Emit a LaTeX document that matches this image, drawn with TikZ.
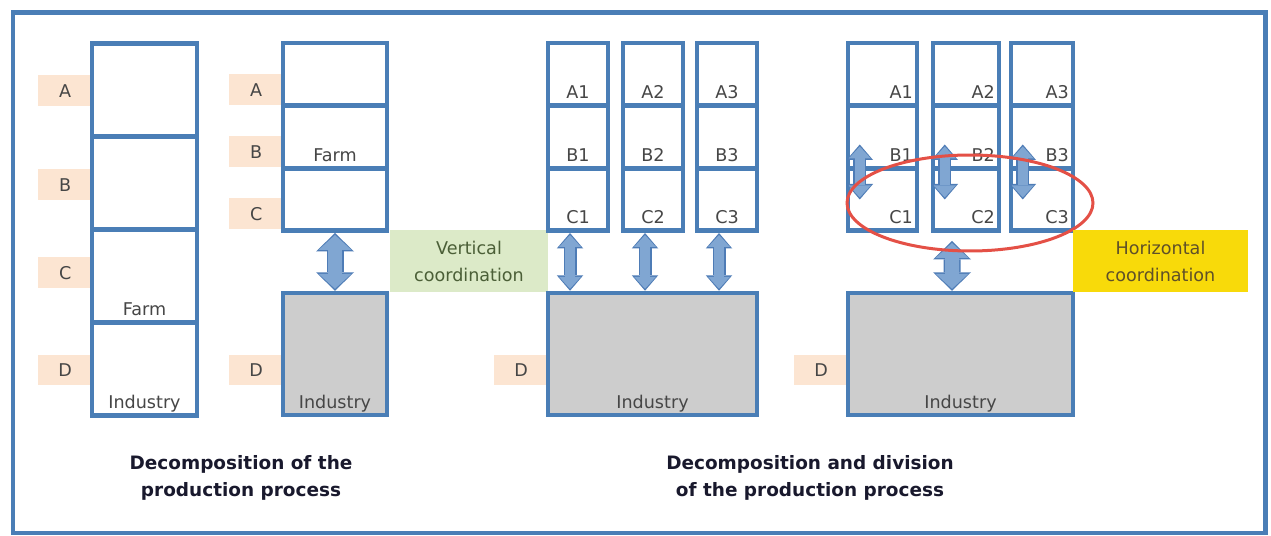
\documentclass[tikz,border=0pt]{standalone}
\usepackage{fontspec}
\setmainfont{DejaVu Sans}
\usetikzlibrary{arrows.meta}

\definecolor{edgeblue}{RGB}{74,126,182}
\definecolor{arrfill}{RGB}{128,166,210}
\definecolor{arrline}{RGB}{78,124,182}
\definecolor{tagbg}{RGB}{252,229,210}
\definecolor{vertbg}{RGB}{220,234,200}
\definecolor{horbg}{RGB}{248,218,10}
\definecolor{indgray}{RGB}{205,205,205}
\definecolor{ringred}{RGB}{228,80,70}
\definecolor{txtgray}{RGB}{70,70,70}
\definecolor{verttxt}{RGB}{75,95,55}
\definecolor{hortxt}{RGB}{95,80,40}
\definecolor{capdark}{RGB}{25,25,45}

\tikzset{
  cell/.style={draw=edgeblue, line width=0.09cm, inner sep=0pt},
  ind/.style={cell, fill=indgray, minimum height=2.44cm},
  tag/.style={fill=tagbg, text=txtgray, anchor=east, minimum width=1.1cm,
    minimum height=0.62cm, inner sep=0pt, font=\fontsize{10}{12}\selectfont},
  txt/.style={text=txtgray, inner sep=0pt, anchor=base, font=\fontsize{10}{12}\selectfont},
  coordbox/.style={minimum height=1.24cm, inner sep=0pt, align=center,
    font=\fontsize{10}{15.4}\selectfont},
  captext/.style={text=capdark, align=center, inner sep=0pt,
    font=\fontsize{10.5}{15.4}\selectfont\bfseries},
  bigarr/.style={draw=arrfill, line width=0.28cm, shorten <=0.04cm, shorten >=0.04cm,
    arrows={Triangle[width=0.66cm,length=0.30cm,line width=0pt]-Triangle[width=0.66cm,length=0.30cm,line width=0pt]},
    preaction={draw=arrline, line width=0.34cm, shorten <=0pt, shorten >=0pt,
      arrows={Triangle[width=0.76cm,length=0.37cm,line width=0pt]-Triangle[width=0.76cm,length=0.37cm,line width=0pt]}}},
  smallarr/.style={draw=arrfill, line width=0.20cm, shorten <=0.04cm, shorten >=0.04cm,
    arrows={Triangle[width=0.44cm,length=0.24cm,line width=0pt]-Triangle[width=0.44cm,length=0.24cm,line width=0pt]},
    preaction={draw=arrline, line width=0.26cm, shorten <=0pt, shorten >=0pt,
      arrows={Triangle[width=0.53cm,length=0.31cm,line width=0pt]-Triangle[width=0.53cm,length=0.31cm,line width=0pt]}}},
  ring/.style={draw=ringred, line width=0.06cm}
}

\begin{document}
\begin{tikzpicture}[x=0.02cm,y=-0.02cm]
  \fill[white] (0,0) rectangle (1271,536);
  \useasboundingbox (0,0) rectangle (1271,536);
  \draw[edgeblue, line width=0.1cm] (13,13) rectangle (1265,533);

  % first stack: four layers in one firm
  \node[tag] at (93,91) {A};
  \node[tag] at (93,185) {B};
  \node[tag] at (93,273) {C};
  \node[tag] at (93,370) {D};
  \node[cell, minimum width=2.1cm, minimum height=1.86cm] (s1a) at (144.5,90) {};
  \node[cell, minimum width=2.1cm, minimum height=1.86cm] (s1b) at (144.5,183) {};
  \node[cell, minimum width=2.1cm, minimum height=1.86cm] (s1c) at (144.5,276) {};
  \node[cell, minimum width=2.1cm, minimum height=1.86cm] (s1d) at (144.5,369) {};
  \node[txt] at ([yshift=0.18cm]s1c.south) {Farm};
  \node[txt] at ([yshift=0.18cm]s1d.south) {Industry};

  % second stack: farm and industry apart
  \node[tag] at (284,90) {A};
  \node[tag] at (284,152) {B};
  \node[tag] at (284,214) {C};
  \node[tag] at (284,370) {D};
  \node[cell, minimum width=2.08cm, minimum height=1.25cm] (s2a) at (335,74.5) {};
  \node[cell, minimum width=2.08cm, minimum height=1.25cm] (s2b) at (335,137) {};
  \node[cell, minimum width=2.08cm, minimum height=1.25cm] (s2c) at (335,199.5) {};
  \node[ind, minimum width=2.08cm] (i2) at (335,354) {};
  \node[txt] at ([yshift=0.18cm]s2b.south) {Farm};
  \node[txt] at ([yshift=0.18cm]i2.south) {Industry};
  \draw[bigarr] (s2c.south) -- (i2.north);

  \node[coordbox, fill=vertbg, text=verttxt, minimum width=3.16cm] (vert) at (469,261)
    {Vertical\\coordination};

  % third group: three parallel chains
  \node[tag] at (549,370) {D};
  \node[ind, minimum width=4.18cm] (i3) at (652.5,354) {};
  \node[txt] at ([yshift=0.18cm]i3.south) {Industry};
  \foreach \n/\x in {1/578,2/653,3/727}{
    \node[cell, minimum width=1.2cm, minimum height=1.25cm] (ma\n) at (\x,74.5) {};
    \node[cell, minimum width=1.2cm, minimum height=1.25cm] (mb\n) at (\x,137) {};
    \node[cell, minimum width=1.2cm, minimum height=1.25cm] (mc\n) at (\x,199.5) {};
    \node[txt] at ([yshift=0.18cm]ma\n.south) {A\n};
    \node[txt] at ([yshift=0.18cm]mb\n.south) {B\n};
    \node[txt] at ([yshift=0.18cm]mc\n.south) {C\n};
    \draw[smallarr] ([xshift=-0.16cm]mc\n.south) -- ([xshift=-0.16cm]mc\n.south |- i3.north);
  }

  % fourth group: coordination across the chains
  \node[tag] at (849,370) {D};
  \node[ind, minimum width=4.5cm] (i4) at (960.5,354) {};
  \node[txt] at ([yshift=0.18cm]i4.south) {Industry};
  \foreach \n/\x/\w in {1/882.5/1.38cm,2/966/1.32cm,3/1042/1.24cm}{
    \node[cell, minimum width=\w, minimum height=1.25cm] (ra\n) at (\x,74.5) {};
    \node[cell, minimum width=\w, minimum height=1.25cm] (rb\n) at (\x,137) {};
    \node[cell, minimum width=\w, minimum height=1.25cm] (rc\n) at (\x,199.5) {};
    \node[txt, anchor=base east] at ([shift={(-6,-9)}]ra\n.south east) {A\n};
    \node[txt, anchor=base east] at ([shift={(-6,-9)}]rb\n.south east) {B\n};
    \node[txt, anchor=base east] at ([shift={(-6,-9)}]rc\n.south east) {C\n};
    \draw[smallarr] ([shift={(14,-26)}]rb\n.south west) -- ([shift={(14,29)}]rb\n.south west);
  }
  \draw[bigarr] ([shift={(-14,8)}]rc2.south) -- ([xshift=-0.28cm]rc2.south |- i4.north);
  \draw[ring] (970,203) ellipse [x radius=2.46cm, y radius=0.96cm];

  \node[coordbox, fill=horbg, text=hortxt, minimum width=3.5cm] (hor) at (1160.5,261)
    {Horizontal\\coordination};

  \node[captext] (cap1) at (241,478) {Decomposition of the\\production process};
  \node[captext] (cap2) at (810,478) {Decomposition and division\\of the production process};
\end{tikzpicture}
\end{document}
